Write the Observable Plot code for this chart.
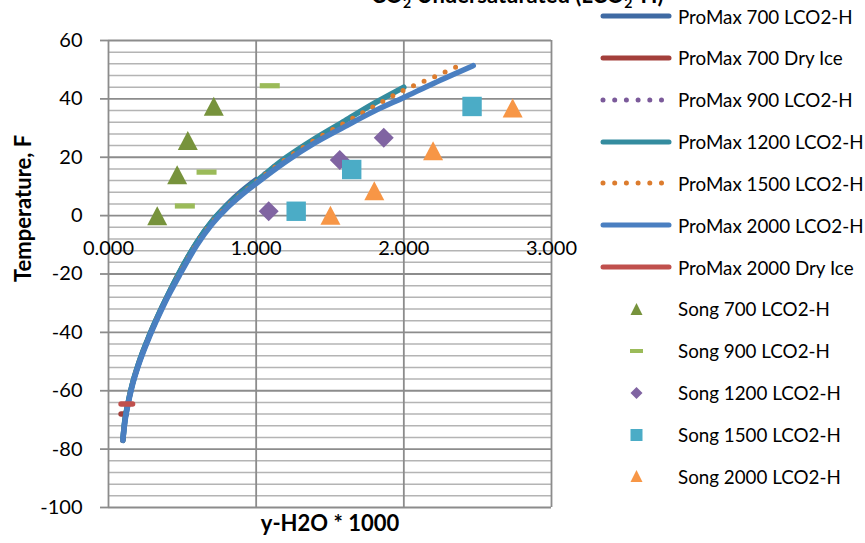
<!DOCTYPE html>
<html>
<head>
<meta charset="utf-8">
<script src="https://cdn.jsdelivr.net/npm/d3@7"></script>
<script src="https://cdn.jsdelivr.net/npm/@observablehq/plot@0.6"></script>
<style>
  html, body { margin: 0; padding: 0; background: #fff; }
  #wrap { position: relative; width: 865px; height: 543px; overflow: hidden; font-family: Lato, "Open Sans", sans-serif; }
  #chart { position: absolute; left: 0; top: 0; }
  #title { position: absolute; left: 371px; top: -16.5px; font: bold 22px Lato, sans-serif; line-height: 22px; white-space: nowrap; color: #000; }
  #title sub { font-size: 14px; line-height: 0; vertical-align: -5px; }
  .lg { position: absolute; left: 600px; height: 30px; display: flex; align-items: center; white-space: nowrap; font-size: 18.8px; color: #000; }
  .lg svg { flex: none; }
  .lg span { margin-left: 6px; }
</style>
</head>
<body>
<div id="wrap">
  <div id="chart"></div>
  <div id="title">CO<sub>2</sub> Undersaturated (LCO<sub>2</sub>-H)</div>
  <div id="legend"></div>
</div>
<script>
// ---- axis ticks / labels ----
const xTicks = [0, 1, 2, 3];
const yTicks = [-100, -80, -60, -40, -20, 0, 20, 40, 60];
const yMinorStep = 4;
const xLabel = "y-H2O * 1000";
const yLabel = "Temperature, F";

// ---- ProMax curves (x = y-H2O*1000, T in F) ----
const pm700LiqX = [0.097, 0.11, 0.133, 0.16, 0.205, 0.265, 0.32, 0.38, 0.48, 0.6, 0.7, 0.8, 0.9, 1.0];
const pm700LiqT = [-77, -70.5, -64, -58, -50.5, -42.5, -36, -29.5, -19.5, -9, -2, 3.6, 8.3, 12.3];

const pm700DryX = [0.085, 0.12];
const pm700DryT = [-68, -68];

const pm900LiqX = [0.097, 0.11, 0.133, 0.16, 0.205, 0.265, 0.32, 0.38, 0.48, 0.6, 0.7, 0.8, 0.9, 1.0, 1.1, 1.2];
const pm900LiqT = [-77, -70.5, -64, -58, -50.5, -42.5, -36, -29.5, -19.5, -9, -2, 3.3, 7.8, 12, 16, 19.8];

const pm1200LiqX = [0.097, 0.11, 0.133, 0.16, 0.205, 0.265, 0.32, 0.38, 0.48, 0.6, 0.7, 0.8, 0.9, 1.0, 1.2, 1.4, 1.6, 1.8, 2.0];
const pm1200LiqT = [-77, -70.5, -64, -58, -50.5, -42.5, -36, -29.5, -19.5, -9, -2, 3.3, 7.8, 11.8, 19.8, 26.5, 32.5, 38.5, 44];

const pm1500LiqX = [0.097, 0.11, 0.133, 0.16, 0.205, 0.265, 0.32, 0.38, 0.48, 0.6, 0.7, 0.8, 0.9, 1.0, 1.2, 1.4, 1.6, 1.8, 2.0, 2.2, 2.4];
const pm1500LiqT = [-77, -70.5, -64.2, -58.2, -50.8, -42.8, -36.2, -29.8, -20, -9.5, -2.5, 3, 7.4, 11.5, 19.3, 26, 31.8, 37.5, 43, 47.4, 52];

const pm2000LiqX = [0.097, 0.11, 0.133, 0.16, 0.205, 0.265, 0.32, 0.38, 0.48, 0.6, 0.7, 0.8, 0.9, 1.0, 1.2, 1.4, 1.6, 1.8, 2.0, 2.2, 2.47];
const pm2000LiqT = [-77, -71, -64.5, -58.5, -51, -43, -36.5, -30, -20.5, -10, -3, 2.5, 7, 11, 18.5, 25, 30.5, 35.8, 40.5, 45.3, 51.4];

const pm2000DryX = [0.085, 0.163];
const pm2000DryT = [-64.5, -64.5];

// ---- Song measurements ----
const song700X = [0.33, 0.465, 0.537, 0.713];
const song700T = [0, 14, 25.7, 37.5];
const song900X = [0.517, 0.664, 1.092];
const song900T = [3.3, 14.9, 44.5];
const song1200X = [1.085, 1.566, 1.864];
const song1200T = [1.5, 19.1, 26.7];
const song1500X = [1.271, 1.647, 2.462];
const song1500T = [1.5, 15.8, 37.4];
const song2000X = [1.503, 1.8, 2.198, 2.737];
const song2000T = [0.1, 8.5, 22.2, 36.9];

// ---- series definitions ----
const lineSeries = [
  {name: "ProMax 700 LCO2-H",  xs: pm700LiqX,  ts: pm700LiqT,  color: "#3f6aa3", dotted: false},
  {name: "ProMax 700 Dry Ice", xs: pm700DryX,  ts: pm700DryT,  color: "#a33f3b", dotted: false},
  {name: "ProMax 900 LCO2-H",  xs: pm900LiqX,  ts: pm900LiqT,  color: "#7b5a9a", dotted: true},
  {name: "ProMax 1200 LCO2-H", xs: pm1200LiqX, ts: pm1200LiqT, color: "#348c9f", dotted: false},
  {name: "ProMax 1500 LCO2-H", xs: pm1500LiqX, ts: pm1500LiqT, color: "#dc7c2e", dotted: true},
  {name: "ProMax 2000 LCO2-H", xs: pm2000LiqX, ts: pm2000LiqT, color: "#4a7fc1", dotted: false},
  {name: "ProMax 2000 Dry Ice",xs: pm2000DryX, ts: pm2000DryT, color: "#c0504d", dotted: false}
];

function sym(kind) {
  return {
    draw(ctx, size) {
      const r = Math.sqrt(size / Math.PI);
      if (kind === "tri") { ctx.moveTo(0, -0.95 * r); ctx.lineTo(r, 0.95 * r); ctx.lineTo(-r, 0.95 * r); ctx.closePath(); }
      else if (kind === "sq") { ctx.rect(-r, -r, 2 * r, 2 * r); }
      else if (kind === "dia") { ctx.moveTo(0, -r); ctx.lineTo(r, 0); ctx.lineTo(0, r); ctx.lineTo(-r, 0); ctx.closePath(); }
      else if (kind === "dash") { ctx.rect(-r, -0.26 * r, 2 * r, 0.52 * r); }
    }
  };
}

const pointSeries = [
  {name: "Song 700 LCO2-H",  xs: song700X,  ts: song700T,  color: "#77933c", kind: "tri"},
  {name: "Song 900 LCO2-H",  xs: song900X,  ts: song900T,  color: "#9bbb59", kind: "dash"},
  {name: "Song 1200 LCO2-H", xs: song1200X, ts: song1200T, color: "#8064a2", kind: "dia"},
  {name: "Song 1500 LCO2-H", xs: song1500X, ts: song1500T, color: "#4bacc6", kind: "sq"},
  {name: "Song 2000 LCO2-H", xs: song2000X, ts: song2000T, color: "#f79646", kind: "tri"}
];

const toRows = s => s.xs.map((x, i) => ({x, t: s.ts[i]}));

const yMinor = d3.range(yTicks[0], yTicks[yTicks.length - 1] + 1, yMinorStep).filter(v => !yTicks.includes(v));

const marks = [
  Plot.ruleY(yMinor, {y: d => d, stroke: "#b4b4b4", strokeWidth: 1.5}),
  Plot.ruleY(yTicks, {y: d => d, stroke: "#8c8c8c", strokeWidth: 1.8}),
  Plot.ruleX(xTicks, {x: d => d, stroke: "#8c8c8c", strokeWidth: 1.8}),
  Plot.axisY({ticks: yTicks, tickSize: 8, tickPadding: 18, tickFormat: d => String(d), fontSize: 20, stroke: "#8c8c8c", strokeWidth: 1.8, label: null, color: "#000"}),
  Plot.text(xTicks, {x: d => d, y: 0, dy: 33, text: d => d.toFixed(3), fontSize: 20, fill: "#000"}),
  Plot.text([yLabel], {frameAnchor: "left", dx: -85, dy: 8, rotate: -90, text: d => d, fontSize: 22, fontWeight: "bold", fill: "#000"}),
  Plot.text([xLabel], {frameAnchor: "bottom", dy: 23, text: d => d, fontSize: 22, fontWeight: "bold", fill: "#000"})
];

for (const s of lineSeries) {
  marks.push(Plot.line(toRows(s), {
    x: "x", y: "t", stroke: s.color, strokeWidth: s.dotted ? 5 : 5.5,
    strokeLinecap: "round", strokeLinejoin: "round",
    strokeDasharray: s.dotted ? "0 11.5" : null,
    curve: "monotone-x"
  }));
}
const sizes = {tri: 10, dash: 10, dia: 10, sq: 9.7};
for (const s of pointSeries) {
  marks.push(Plot.dot(toRows(s), {x: "x", y: "t", symbol: sym(s.kind), r: sizes[s.kind], fill: s.color, stroke: "none"}));
}

const chart = Plot.plot({
  width: 600, height: 543,
  marginLeft: 108, marginRight: 49, marginTop: 40, marginBottom: 36,
  style: {fontFamily: "Lato, 'Open Sans', sans-serif", background: "transparent", overflow: "visible"},
  x: {domain: [xTicks[0], xTicks[xTicks.length - 1]], axis: null},
  y: {domain: [yTicks[0], yTicks[yTicks.length - 1]], axis: null},
  marks
});
document.getElementById("chart").appendChild(chart);

// ---- legend ----
const legend = document.getElementById("legend");
const allItems = [...lineSeries.map(s => ({...s, type: "line"})), ...pointSeries.map(s => ({...s, type: "pt"}))];
const symPaths = {
  tri: "M36.5,9 L42.5,21 L30.5,21 Z",
  dash: "M30,13 L43,13 L43,17 L30,17 Z",
  dia: "M36.5,9 L42.5,15 L36.5,21 L30.5,15 Z",
  sq: "M30.5,9 L42.5,9 L42.5,21 L30.5,21 Z"
};
allItems.forEach((s, i) => {
  const row = document.createElement("div");
  row.className = "lg";
  row.style.top = (16 + i * 41.85 - 15) + "px";
  let sw;
  if (s.type === "line") {
    sw = `<svg width="72" height="30"><line x1="3" x2="69" y1="15" y2="15" stroke="${s.color}" stroke-width="5" stroke-linecap="round" ${s.dotted ? 'stroke-dasharray="0 11.7"' : ''}/></svg>`;
  } else {
    sw = `<svg width="72" height="30"><path d="${symPaths[s.kind]}" fill="${s.color}"/></svg>`;
  }
  row.innerHTML = sw + `<span>${s.name}</span>`;
  legend.appendChild(row);
});
</script>
</body>
</html>
